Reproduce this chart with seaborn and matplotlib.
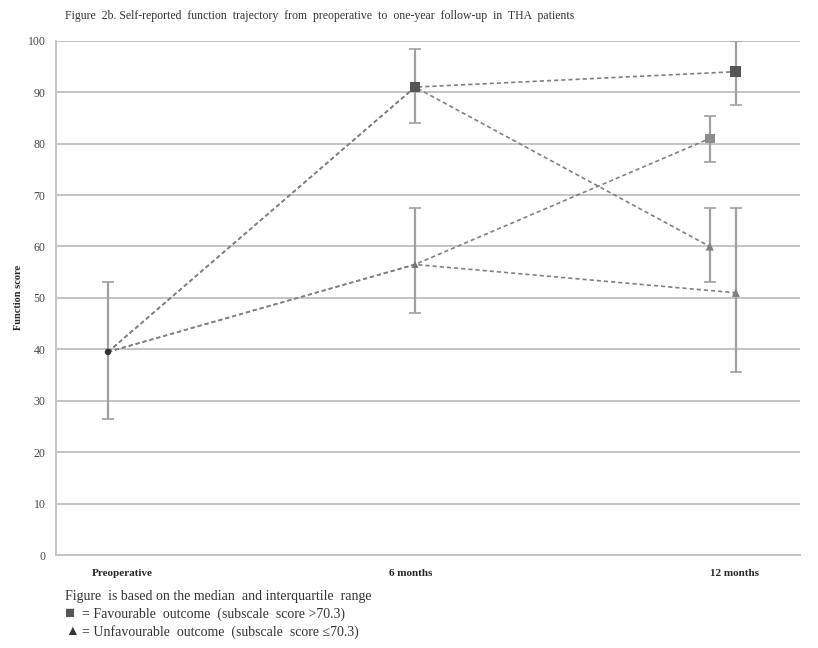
import pandas as pd
import matplotlib.pyplot as plt
import seaborn as sns

# Values (median and interquartile range)
timepoints = ['Preoperative', '6 months', '12 months']
trajectories = ['fav_fav', 'fav_unfav', 'unfav_fav', 'unfav_unfav']

medians = {
    'fav_fav':     [39.5, 91.0, 94.0],
    'fav_unfav':   [39.5, 91.0, 60.0],
    'unfav_fav':   [39.5, 56.5, 81.0],
    'unfav_unfav': [39.5, 56.5, 51.0],
}
q1 = {
    'fav_fav':     [26.5, 84.0, 87.5],
    'fav_unfav':   [26.5, 84.0, 53.0],
    'unfav_fav':   [26.5, 47.0, 76.5],
    'unfav_unfav': [26.5, 47.0, 35.5],
}
q3 = {
    'fav_fav':     [53.0, 98.5, 100.0],
    'fav_unfav':   [53.0, 98.5, 67.5],
    'unfav_fav':   [53.0, 67.5, 85.3],
    'unfav_unfav': [53.0, 67.5, 67.5],
}

# small horizontal offset at 12 months so the groups don't overlap
offset_12m = {'fav_fav': 0.045, 'fav_unfav': -0.04, 'unfav_fav': -0.04, 'unfav_unfav': 0.045}

rows = []
for t in trajectories:
    for i, tp in enumerate(timepoints):
        x = i + (offset_12m[t] if i == 2 else 0)
        rows.append({'traj': t, 'x': x, 'score': medians[t][i], 'lo': q1[t][i], 'hi': q3[t][i], 'i': i})
df = pd.DataFrame(rows)

sns.set_style('white')
plt.rcParams['font.family'] = ['Liberation Serif', 'DejaVu Serif']

fig = plt.figure(figsize=(8.18, 6.48), dpi=100)
ax = fig.add_axes([0.069, 0.1435, 0.909, 0.7935])

# dashed trajectory lines
for t in trajectories:
    sub = df[df['traj'] == t]
    sns.lineplot(data=sub, x='x', y='score', ax=ax, color='#808080', lw=1.2,
                 linestyle=(0, (2.5, 1.8)), sort=False, estimator=None)

# error bars (drawn once per unique point)
eb = df.drop_duplicates(subset=['x', 'score', 'lo', 'hi'])
for _, r in eb.iterrows():
    ax.errorbar(r['x'], r['score'], yerr=[[r['score'] - r['lo']], [r['hi'] - r['score']]],
                fmt='none', ecolor='#a0a0a0', elinewidth=1.6, capsize=4, capthick=1.2, zorder=2)

# markers
pre = eb[eb['i'] == 0]
sns.scatterplot(data=pre, x='x', y='score', ax=ax, marker='o', s=22, color='#333333',
                edgecolor='none', zorder=4)
six = eb[eb['i'] == 1]
sns.scatterplot(data=six[six['score'] > 70], x='x', y='score', ax=ax, marker='s', s=55,
                color='#555555', edgecolor='none', zorder=4)
sns.scatterplot(data=six[six['score'] <= 70], x='x', y='score', ax=ax, marker='^', s=25,
                color='#777777', edgecolor='none', zorder=4)
twelve = eb[eb['i'] == 2]
sns.scatterplot(data=twelve[twelve['traj'] == 'fav_fav'], x='x', y='score', ax=ax, marker='s',
                s=65, color='#555555', edgecolor='none', zorder=4)
sns.scatterplot(data=twelve[twelve['traj'] == 'unfav_fav'], x='x', y='score', ax=ax, marker='s',
                s=50, color='#8c8c8c', edgecolor='none', zorder=4)
sns.scatterplot(data=twelve[twelve['traj'].isin(['fav_unfav', 'unfav_unfav'])], x='x', y='score',
                ax=ax, marker='^', s=35, color='#808080', edgecolor='none', zorder=4)

ax.set_xlim(-0.168, 2.254)
ax.set_ylim(0, 100)
ax.set_yticks(range(0, 101, 10))
ax.yaxis.grid(True, color='#c4c4c4', lw=1.4)
ax.set_axisbelow(True)
ax.set_xticks([0.045, 0.985, 2.04])
ax.set_xticklabels(timepoints, fontsize=8, fontweight='bold')
ax.tick_params(axis='x', length=0, pad=10)
ax.tick_params(axis='y', length=0, labelsize=8.5, labelcolor='#444444', pad=8)
for s in ['top', 'right']:
    ax.spines[s].set_visible(False)
for s in ['left', 'bottom']:
    ax.spines[s].set_color('#c4c4c4')
    ax.spines[s].set_linewidth(1.4)
ax.set_xlabel('')
ax.set_ylabel('Function score', fontsize=7.5, fontweight='bold')
ax.yaxis.set_label_coords(-0.045, 0.5)

fig.text(0.08, 0.975, 'Figure  2b. Self-reported  function  trajectory  from  preoperative  to  one-year  follow-up  in  THA  patients',
         fontsize=8.5, color='#333333', va='center')

fig.text(0.08, 0.08, 'Figure  is based on the median  and interquartile  range', fontsize=10, color='#333333', va='center')
fig.text(0.079, 0.053, '\u25A0', fontsize=12, color='#555555', va='center')
fig.text(0.10, 0.052, '= Favourable  outcome  (subscale  score >70.3)', fontsize=10, color='#333333', va='center')
fig.text(0.08, 0.025, '\u25B2', fontsize=10, color='#333333', va='center')
fig.text(0.10, 0.024, '= Unfavourable  outcome  (subscale  score \u226470.3)', fontsize=10, color='#333333', va='center')

fig.savefig('out.png', dpi=100)
